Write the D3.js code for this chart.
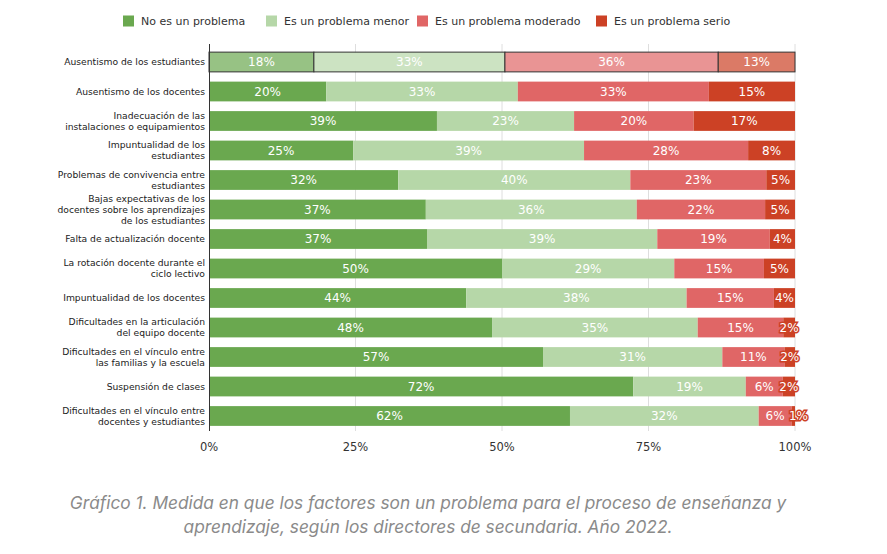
<!DOCTYPE html>
<html>
<head>
<meta charset="utf-8">
<script src="https://cdn.jsdelivr.net/npm/d3@7"></script>
<style>
  html, body { margin: 0; padding: 0; background: #fff; }
  svg { display: block; }
</style>
</head>
<body>
<svg id="chart" width="887" height="554"></svg>
<script>
// ---- data ----
const categories = [
  "Ausentismo de los estudiantes",
  "Ausentismo de los docentes",
  "Inadecuación de las\ninstalaciones o equipamientos",
  "Impuntualidad de los\nestudiantes",
  "Problemas de convivencia entre\nestudiantes",
  "Bajas expectativas de los\ndocentes sobre los aprendizajes\nde los estudiantes",
  "Falta de actualización docente",
  "La rotación docente durante el\nciclo lectivo",
  "Impuntualidad de los docentes",
  "Dificultades en la articulación\ndel equipo docente",
  "Dificultades en el vínculo entre\nlas familias y la escuela",
  "Suspensión de clases",
  "Dificultades en el vínculo entre\ndocentes y estudiantes"
];
const seriesNames = ["No es un problema", "Es un problema menor", "Es un problema moderado", "Es un problema serio"];
const noProblema  = [17.9, 20.0, 38.9, 24.6, 32.3, 37.0, 37.2, 50.0, 43.9, 48.3, 57.0, 72.4, 61.6];
const menor       = [32.6, 32.7, 23.4, 39.4, 39.6, 36.0, 39.3, 29.4, 37.6, 35.1, 30.6, 19.2, 32.2];
const moderado    = [36.4, 32.6, 20.4, 28.0, 23.2, 21.9, 19.2, 15.3, 14.9, 14.6, 10.6,  6.3,  5.6];
const serio       = [13.1, 14.7, 17.3,  8.0,  4.9,  5.1,  4.3,  5.3,  3.6,  2.0,  1.8,  2.1,  0.6];
const tickValues  = [0, 25, 50, 75, 100];
const tickLabels  = ["0%", "25%", "50%", "75%", "100%"];
const colors      = ["#6aa84f", "#b6d7a8", "#e06666", "#cc4125"];
const caption = [
  "Gráfico 1. Medida en que los factores son un problema para el proceso de enseñanza y",
  "aprendizaje, según los directores de secundaria. Año 2022."
];
const highlightedRow = 0;

// ---- build table ----
const seriesValues = [noProblema, menor, moderado, serio];
const table = categories.map((c, i) => {
  const o = { cat: c };
  seriesNames.forEach((s, k) => o[s] = seriesValues[k][i]);
  return o;
});
const stacked = d3.stack().keys(seriesNames)(table);

// ---- layout ----
const svg = d3.select("#chart");
const x = d3.scaleLinear().domain([0, 100]).range([209, 795]);
const y = d3.scaleBand().domain(categories).range([47.25, 430.75]).paddingInner(0.33).paddingOuter(0.165);
const font = "'DejaVu Sans', Verdana, sans-serif";

// gridlines
svg.append("g")
  .selectAll("line")
  .data(tickValues.slice(1))
  .join("line")
  .attr("x1", d => x(d)).attr("x2", d => x(d))
  .attr("y1", 44).attr("y2", 431)
  .attr("stroke", "#dedede").attr("stroke-width", 1);

// bars
const lighten = c => d3.interpolateRgb(c, "#ffffff")(0.3);
const layers = svg.append("g").selectAll("g")
  .data(stacked)
  .join("g");

layers.each(function(layer, k) {
  const g = d3.select(this);
  g.selectAll("rect")
    .data(layer)
    .join("rect")
    .attr("x", d => x(d[0]))
    .attr("y", d => y(d.data.cat))
    .attr("width", d => Math.max(0, x(d[1]) - x(d[0])))
    .attr("height", y.bandwidth())
    .attr("fill", (d, i) => i === highlightedRow ? lighten(colors[k]) : colors[k])
    .attr("stroke", (d, i) => i === highlightedRow ? "#333" : "none")
    .attr("stroke-width", 1);
});

// bar value labels
layers.each(function(layer, k) {
  const g = d3.select(this);
  g.selectAll("text")
    .data(layer)
    .join("text")
    .attr("x", d => {
      const w = x(d[1]) - x(d[0]);
      const cx = (x(d[0]) + x(d[1])) / 2;
      if (w < 5) return x(d[0]) + 7;          // hairline segment: label nudged past its start
      return w < 20 ? Math.min(cx, 790) : cx;
    })
    .attr("y", d => y(d.data.cat) + y.bandwidth() / 2)
    .attr("dy", "0.36em")
    .attr("text-anchor", "middle")
    .attr("font-family", font)
    .attr("font-size", 12)
    .attr("fill", "#fff")
    .attr("stroke", d => (x(d[1]) - x(d[0])) < 20 ? colors[k] : "none")
    .attr("stroke-width", 3)
    .attr("paint-order", "stroke")
    .text(d => Math.round(d[1] - d[0]) + "%");
});

// axis line
svg.append("line")
  .attr("x1", 209.5).attr("x2", 209.5)
  .attr("y1", 44).attr("y2", 431)
  .attr("stroke", "#333").attr("stroke-width", 1);

// category labels
const catG = svg.append("g");
categories.forEach(c => {
  const lines = c.split("\n");
  const cy = y(c) + y.bandwidth() / 2;
  const lh = 11;
  const t = catG.append("text")
    .attr("text-anchor", "end")
    .attr("font-family", font)
    .attr("font-size", 9.2)
    .attr("fill", "#222");
  lines.forEach((ln, j) => {
    t.append("tspan")
      .attr("x", 205)
      .attr("y", cy + (j - (lines.length - 1) / 2) * lh)
      .attr("dy", "0.35em")
      .text(ln);
  });
});

// x tick labels
svg.append("g")
  .selectAll("text")
  .data(tickValues)
  .join("text")
  .attr("x", d => x(d))
  .attr("y", 447)
  .attr("dy", "0.35em")
  .attr("text-anchor", "middle")
  .attr("font-family", font)
  .attr("font-size", 11.5)
  .attr("fill", "#333")
  .text((d, i) => tickLabels[i]);

// legend
const legendX = [123, 266, 417, 596];
const lg = svg.append("g");
seriesNames.forEach((s, k) => {
  lg.append("rect")
    .attr("x", legendX[k]).attr("y", 15.5)
    .attr("width", 11).attr("height", 11)
    .attr("fill", colors[k]);
  lg.append("text")
    .attr("x", legendX[k] + 18).attr("y", 21)
    .attr("dy", "0.35em")
    .attr("font-family", font)
    .attr("font-size", 11)
    .attr("fill", "#333")
    .text(s);
});

// caption
svg.append("g")
  .selectAll("text")
  .data(caption)
  .join("text")
  .attr("x", 428)
  .attr("y", (d, i) => 503 + i * 24)
  .attr("dy", "0.35em")
  .attr("text-anchor", "middle")
  .attr("font-family", "Inter, 'Noto Sans', sans-serif")
  .attr("font-style", "italic")
  .attr("font-size", 17.3)
  .attr("fill", "#8a8a8a")
  .text(d => d);
</script>
</body>
</html>
